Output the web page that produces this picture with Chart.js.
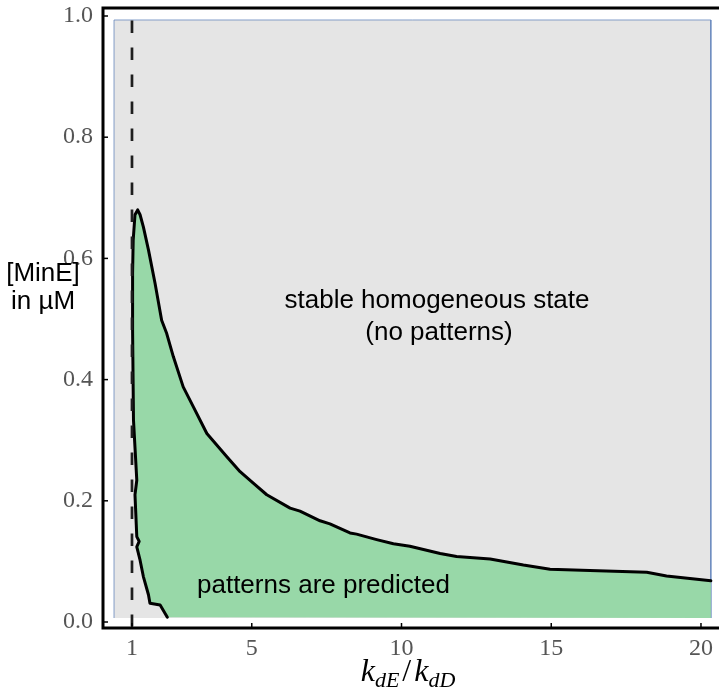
<!DOCTYPE html>
<html><head><meta charset="utf-8">
<script src="https://cdn.jsdelivr.net/npm/chart.js@4"></script>
<style>html,body{margin:0;padding:0;background:#fff;overflow:hidden}canvas{display:block}</style>
</head><body>
<canvas id="c" width="719" height="693"></canvas>
<script>
// ---- data ----
const xTicks = [1, 5, 10, 15, 20];
const yTicks = [0, 0.2, 0.4, 0.6, 0.8, 1.0];

// left (lower-x) boundary of the pattern region, from bottom up to the tip
const leftEdgeX = [2.18, 1.94, 1.60, 1.55, 1.38, 1.27, 1.16, 1.24, 1.16, 1.10, 1.16, 1.05, 1.02, 1.02, 1.04, 1.10];
const leftEdgeY = [0.008, 0.028, 0.031, 0.045, 0.075, 0.102, 0.124, 0.133, 0.141, 0.210, 0.234, 0.333, 0.482, 0.575, 0.630, 0.672];

// upper boundary of the pattern region, from the tip to the right edge
const upperEdgeX = [1.19, 1.27, 1.38, 1.55, 1.77, 1.99, 2.16, 2.38, 2.71, 3.05, 3.50, 4.16, 4.61, 5.05, 5.50, 6.28, 6.61, 7.28, 7.61, 8.28, 8.50, 9.17, 9.73, 10.28, 11.29, 11.84, 12.96, 14.07, 14.96, 16.29, 18.19, 18.85, 20.33];
const upperEdgeY = [0.680, 0.672, 0.652, 0.614, 0.559, 0.498, 0.476, 0.438, 0.388, 0.355, 0.311, 0.273, 0.248, 0.229, 0.210, 0.188, 0.183, 0.167, 0.162, 0.147, 0.145, 0.136, 0.129, 0.125, 0.113, 0.108, 0.104, 0.094, 0.087, 0.085, 0.082, 0.076, 0.068];

// extent of the computed (shaded) parameter domain
const domainX = [0.40, 20.33];
const domainY = [0.0066, 0.9934];

// kdE/kdD = 1 threshold (dashed line)
const thresholdX = 1;
const thresholdY = [0.9926, -0.0075];

// axis ranges
const xRange = [0.032, 20.602];
const yRange = [-0.0099, 1.0132];

// ---- build datasets ----
const pts = (xs, ys) => xs.map((x, i) => ({x, y: ys[i]}));
const boundary = pts(leftEdgeX, leftEdgeY).concat(pts(upperEdgeX, upperEdgeY));
const patternPoly = boundary.concat([{x: domainX[1], y: domainY[0]}]);
const domainPoly = [
  {x: domainX[0], y: domainY[0]}, {x: domainX[0], y: domainY[1]},
  {x: domainX[1], y: domainY[1]}, {x: domainX[1], y: domainY[0]}
];
const dashed = thresholdY.map(y => ({x: thresholdX, y}));

const GREEN = 'rgb(152,216,168)';
const GRAY = 'rgb(229,229,229)';

const framePlugin = {
  id: 'frame',
  afterDraw(chart) {
    const {ctx, chartArea: a, scales} = chart;
    ctx.save();
    // inside tick marks
    ctx.strokeStyle = '#000';
    ctx.lineWidth = 1.5;
    yTicks.forEach(v => {
      const y = scales.y.getPixelForValue(v);
      ctx.beginPath(); ctx.moveTo(a.left, y); ctx.lineTo(a.left + 5, y); ctx.stroke();
    });
    xTicks.forEach(v => {
      const x = scales.x.getPixelForValue(v);
      ctx.beginPath(); ctx.moveTo(x, a.bottom); ctx.lineTo(x, a.bottom - 5); ctx.stroke();
    });
    // frame (left, top, bottom)
    ctx.lineWidth = 3;
    ctx.lineCap = 'square';
    ctx.beginPath();
    ctx.moveTo(a.right + 2, a.top); ctx.lineTo(a.left, a.top); ctx.lineTo(a.left, a.bottom); ctx.lineTo(a.right + 2, a.bottom);
    ctx.stroke();

    // annotations
    ctx.fillStyle = '#000';
    ctx.font = '26px "Liberation Sans", Arial, sans-serif';
    ctx.textAlign = 'center';
    ctx.textBaseline = 'alphabetic';
    ctx.fillText('stable homogeneous state', 437, 308);
    ctx.fillText('(no patterns)', 439, 340);
    ctx.textAlign = 'left';
    ctx.fillText('patterns are predicted', 197, 593);

    // y axis label (horizontal)
    ctx.textAlign = 'center';
    ctx.fillText('[MinE]', 43, 281);
    ctx.fillText('in \u00b5M', 43, 309);

    // x axis label: k_dE / k_dD
    const big = 'italic 32px "Liberation Serif", "Times New Roman", serif';
    const small = 'italic 22px "Liberation Serif", "Times New Roman", serif';
    const slash = '32px "Liberation Serif", "Times New Roman", serif';
    const parts = [
      {t: 'k', f: big, dy: 0}, {t: 'dE', f: small, dy: 6},
      {t: '/', f: slash, dy: 0, pad: 3},
      {t: 'k', f: big, dy: 0}, {t: 'dD', f: small, dy: 6}
    ];
    let total = 0;
    parts.forEach(p => { ctx.font = p.f; p.w = ctx.measureText(p.t).width + (p.pad || 0) * 2; total += p.w; });
    let x = 408 - total / 2;
    ctx.textAlign = 'left';
    parts.forEach(p => {
      ctx.font = p.f;
      ctx.fillText(p.t, x + (p.pad || 0), 681 + p.dy);
      x += p.w;
    });
    ctx.restore();
  }
};

new Chart(document.getElementById('c'), {
  type: 'line',
  data: {
    datasets: [
      {label: 'threshold', data: dashed, borderColor: '#1e1e1e', borderWidth: 2.7, borderDash: [12.5, 14.5], fill: false, pointRadius: 0},
      {label: 'boundary', data: boundary, borderColor: '#000', borderWidth: 3, borderJoinStyle: 'round', borderCapStyle: 'round', fill: false, pointRadius: 0},
      {label: 'patterns', data: patternPoly, borderWidth: 0, borderColor: 'rgba(0,0,0,0)', backgroundColor: GREEN, fill: 'shape', pointRadius: 0},
      {label: 'stable', data: domainPoly, borderWidth: 1, borderColor: 'rgba(95,130,185,0.75)', backgroundColor: GRAY, fill: 'shape', pointRadius: 0}
    ]
  },
  options: {
    responsive: false,
    animation: false,
    devicePixelRatio: 1,
    events: [],
    layout: {padding: {top: 8, right: 0, left: 0, bottom: 0}},
    elements: {line: {tension: 0}},
    plugins: {legend: {display: false}, tooltip: {enabled: false}},
    scales: {
      x: {
        type: 'linear', min: xRange[0], max: xRange[1],
        grid: {display: false, drawTicks: false},
        border: {display: false},
        afterBuildTicks: s => { s.ticks = xTicks.map(v => ({value: v})); },
        afterFit: s => { s.height = 65; s.paddingLeft = 0; s.paddingRight = 0; },
        ticks: {padding: 6, color: '#555', font: {family: '"Liberation Serif", "Times New Roman", serif', size: 24}, maxRotation: 0, autoSkip: false, callback: v => String(v)}
      },
      y: {
        type: 'linear', min: yRange[0], max: yRange[1],
        grid: {display: false, drawTicks: false},
        border: {display: false},
        afterBuildTicks: s => { s.ticks = yTicks.map(v => ({value: v})); },
        afterFit: s => { s.width = 103; s.paddingTop = 0; s.paddingBottom = 0; },
        ticks: {padding: 10, color: '#555', font: {family: '"Liberation Serif", "Times New Roman", serif', size: 24}, autoSkip: false, callback: v => Number(v).toFixed(1)}
      }
    }
  },
  plugins: [framePlugin]
});
</script>
</body></html>
